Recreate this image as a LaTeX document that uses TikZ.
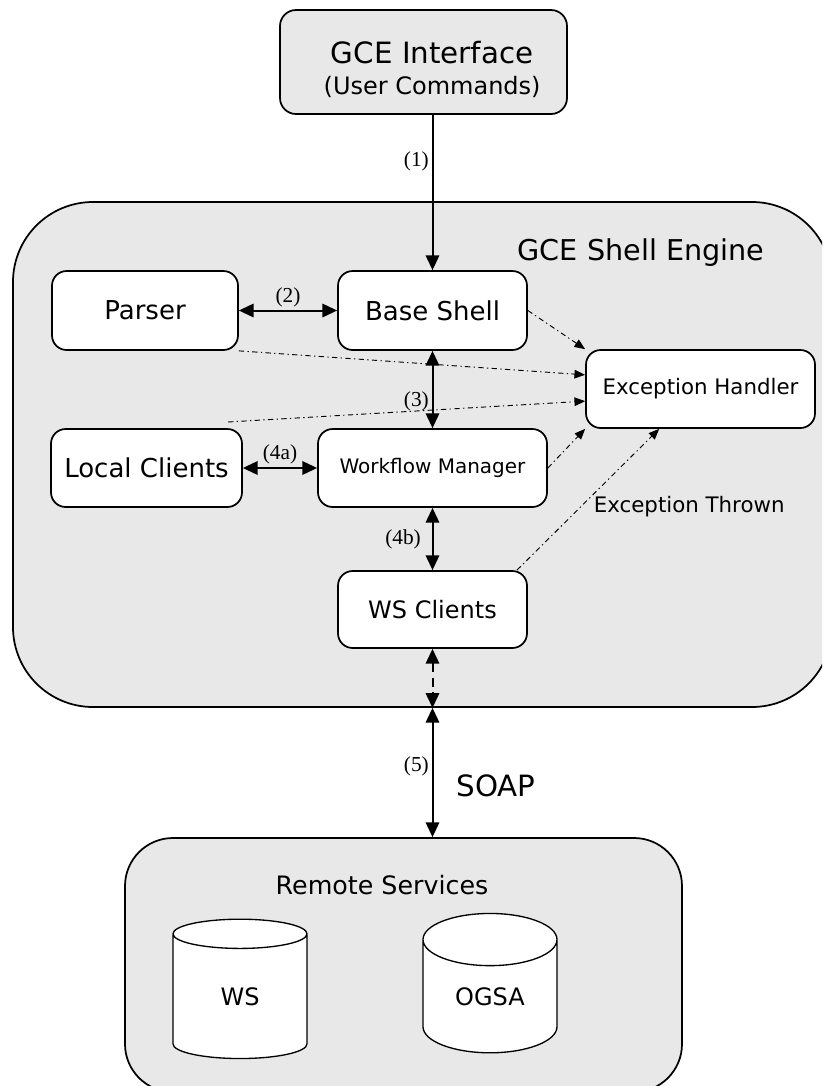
\documentclass[tikz,border=0pt]{standalone}
\usepackage{fontspec}
\setmainfont{Liberation Serif}
\setsansfont{DejaVu Sans}
\usetikzlibrary{arrows.meta,positioning,calc,shapes.geometric}
\definecolor{panel}{HTML}{E8E8E8}
\definecolor{ink}{HTML}{000000}
\tikzset{box/.style={draw=ink,fill=white,line width=1.3pt,rounded corners=11pt,inner sep=0pt,font=\sffamily},
  panelbox/.style={draw=ink,fill=panel,line width=1.3pt,inner sep=0pt},
  db/.style={cylinder,shape border rotate=90,aspect=0.75,draw=ink,fill=white,line width=1pt,
    minimum width=100.5pt,minimum height=104.5pt,inner sep=0pt,font=\sffamily\fontsize{18}{21}\selectfont},
  conn/.style={line width=1.5pt,{Triangle[length=11pt,width=10pt]}-{Triangle[length=11pt,width=10pt]}},
  exarrow/.style={line width=.7pt,dash pattern=on 4pt off 2.5pt on 1pt off 2.5pt,-{Triangle[length=8pt,width=6.5pt]}},
  num/.style={font=\fontsize{16}{18}\selectfont,inner sep=2pt}}
\begin{document}
\begin{tikzpicture}[x=0.75pt,y=-0.75pt]
\useasboundingbox (0,0) rectangle (822,1086);
\clip (0,0) rectangle (822,1086);
% containers
\node[panelbox,rounded corners=60pt,minimum width=614.25pt,minimum height=378.75pt] (engine) at (422.5,454.5) {};
\node[font=\sffamily\fontsize{21.5}{25}\selectfont] (enginetitle) at (641,253) {GCE Shell Engine};
\node[panelbox,rounded corners=36pt,minimum width=417.75pt,minimum height=190.5pt] (remote) at (403.5,965) {};
\node[font=\sffamily\fontsize{19}{22}\selectfont] (remotetitle) at (382,885) {Remote Services};
\node[panelbox,rounded corners=12pt,minimum width=215.25pt,minimum height=78pt,font=\sffamily] (gce) at (423.5,62)
  {\hspace{13pt}\raisebox{-9pt}[0pt][0pt]{\begin{tabular}{@{}c@{}}\fontsize{22}{23}\selectfont GCE Interface\\[6pt]
   \fontsize{18}{23}\selectfont (User Commands)\end{tabular}}};
% components
\node[box,minimum width=139.5pt,minimum height=59.25pt,font=\sffamily\fontsize{19.5}{22}\selectfont] (parser) at (145,310.5) {Parser};
\node[box,minimum width=141.75pt,minimum height=59.25pt,font=\sffamily\fontsize{19.5}{22}\selectfont] (base) at (432.5,310.5) {Base Shell};
\node[box,minimum width=171.75pt,minimum height=58.5pt,font=\sffamily\fontsize{16}{18}\selectfont] (exc) at (700.5,389) {Exception Handler};
\node[box,minimum width=143.25pt,minimum height=58.5pt,font=\sffamily\fontsize{19.5}{22}\selectfont] (local) at (146.5,468) {Local Clients};
\node[box,minimum width=171.75pt,minimum height=58.5pt,font=\sffamily\fontsize{15}{17}\selectfont] (wf) at (432.5,468) {Workflow Manager};
\node[box,minimum width=141.75pt,minimum height=57.75pt,font=\sffamily\fontsize{18}{21}\selectfont] (wsc) at (432.5,609.5) {WS Clients};
\node[db] (ws) at (240,996.5) {WS};
\node[db] (ogsa) at (490,996.5) {OGSA};
% connectors
\draw[line width=1.5pt,-{Triangle[length=11pt,width=10pt]}] (gce.south -| base) -- node[num,left,pos=.3] {(1)} (base.north);
\draw[conn] (parser.east) -- node[num,above] {(2)} (base.west);
\draw[conn] (base.south) -- node[num,left,pos=.65] {(3)} (wf.north);
\draw[conn] (local.east) -- node[num,above] {(4a)} (wf.west);
\draw[conn] (wf.south) -- node[num,left,xshift=-6pt] {(4b)} (wsc.north);
\coordinate (shellport) at (wsc.south |- engine.south);
\coordinate (remoteport) at (wsc.south |- remote.north);
\draw[conn,dashed,dash pattern=on 7pt off 4pt] (wsc.south) -- (shellport);
\draw[conn] (shellport) -- node[num,left,pos=.45] {(5)}
  node[right,xshift=14pt,pos=.6,font=\sffamily\fontsize{22}{26}\selectfont] {SOAP} (remoteport);
% exceptions
\coordinate (lcout) at (228,422);
\draw[exarrow] (base.east) -- (exc.north west);
\draw[exarrow] (parser.south east) -- (exc.173);
\draw[exarrow] (lcout) -- (exc.186);
\draw[exarrow] (wf.east) -- (exc.south west);
\draw[exarrow] (wsc.25) -- node[right,pos=.45,xshift=6pt,font=\sffamily\fontsize{16}{18}\selectfont] {Exception Thrown} (exc.224);
\end{tikzpicture}
\end{document}
